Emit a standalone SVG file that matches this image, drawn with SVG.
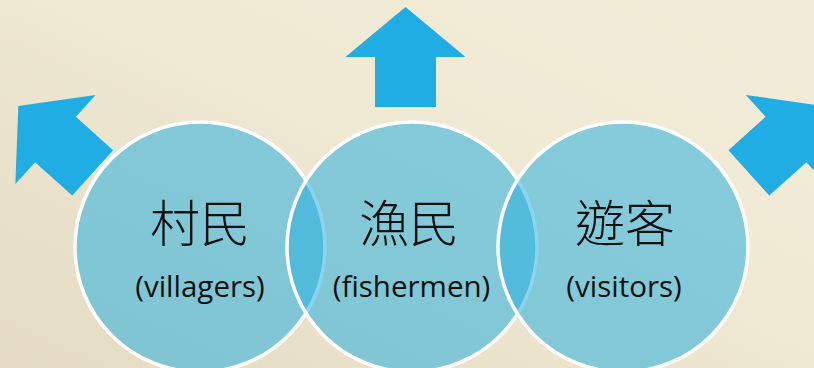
<svg xmlns="http://www.w3.org/2000/svg" width="814" height="368" viewBox="0 0 814 368">
  <defs>
    <linearGradient id="bg" x1="0" y1="1" x2="1" y2="0">
      <stop offset="0" stop-color="#E4DBC2"/>
      <stop offset="0.6" stop-color="#F0E9D4"/>
      <stop offset="1" stop-color="#F3ECD8"/>
    </linearGradient>
    <path id="arrow" d="M0,-50 L60,0 L30.5,0 L30.5,50 L-30.5,50 L-30.5,0 L-60,0 Z"/>
  </defs>
  <style>
    .arrow { fill: #1FADE4; }
    .circle { fill: rgb(44,176,222); fill-opacity: 0.55; stroke: #FFFFFF; stroke-width: 3.5; }
    .cjk { font-family: "Noto Sans CJK TC", "Noto Sans CJK SC", sans-serif; font-size: 50px; font-weight: 300; fill: #111111; text-anchor: middle; }
    .en { font-family: "Open Sans", "Noto Sans", "Liberation Sans", sans-serif; font-size: 29.5px; fill: #111111; text-anchor: middle; }
  </style>
  <rect x="0" y="0" width="814" height="368" fill="url(#bg)"/>
  <g id="arrows">
    <use href="#arrow" class="arrow" transform="translate(55.5,139.5) rotate(-48)"/>
    <use href="#arrow" class="arrow" transform="translate(405.5,57)"/>
    <use href="#arrow" class="arrow" transform="translate(786,139.5) rotate(48)"/>
  </g>
  <g id="node-villagers">
    <circle class="circle" cx="200" cy="247" r="125"/>
  </g>
  <g id="node-fishermen">
    <circle class="circle" cx="412" cy="247" r="125"/>
  </g>
  <g id="node-visitors">
    <circle class="circle" cx="623" cy="247" r="125"/>
  </g>
  <g id="labels">
    <text class="cjk" x="200" y="242">村民</text>
    <text class="en" x="200" y="297">(villagers)</text>
    <text class="cjk" x="409" y="242">漁民</text>
    <text class="en" x="411.5" y="297">(fishermen)</text>
    <text class="cjk" x="625" y="242">遊客</text>
    <text class="en" x="624" y="297">(visitors)</text>
  </g>
</svg>
